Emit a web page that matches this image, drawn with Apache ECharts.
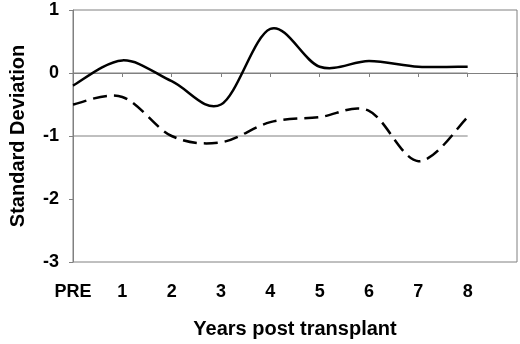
<!DOCTYPE html>
<html>
<head>
<meta charset="utf-8">
<script src="https://cdn.jsdelivr.net/npm/echarts@6/dist/echarts.min.js"></script>
<style>
  html, body { margin: 0; padding: 0; background: #fff; }
  #chart { width: 520px; height: 344px; }
</style>
</head>
<body>
<div id="chart"></div>
<script>
// x positions: 0 = PRE, then years 1..8 (9 is an empty slot at the right)
const years = [0, 1, 2, 3, 4, 5, 6, 7, 8];
const xLabels = ['PRE', '1', '2', '3', '4', '5', '6', '7', '8', ''];
const solidSD = [-0.2, 0.2, -0.13, -0.5, 0.7, 0.1, 0.19, 0.1, 0.1];
const dashedSD = [-0.5, -0.38, -1.0, -1.1, -0.78, -0.7, -0.6, -1.4, -0.7];
const refLevels = [0, -1];

const font = 'Liberation Sans, Arial, sans-serif';
const myChart = echarts.init(document.getElementById('chart'));

const pair = (xs, ys) => xs.map((x, i) => [x, ys[i]]);

// Excel-like smoothed line: cardinal spline through the data points,
// positioned with the chart's own coordinate system (api.coord)
function smoothRender(values, dash) {
  return function (params, api) {
    if (params.dataIndex !== 0) return;
    const p = values.map((v, i) => api.coord([years[i], v]));
    let d = 'M' + p[0][0] + ' ' + p[0][1];
    for (let i = 0; i < p.length - 1; i++) {
      const p0 = p[Math.max(i - 1, 0)];
      const p1 = p[i];
      const p2 = p[i + 1];
      const p3 = p[Math.min(i + 2, p.length - 1)];
      const c1x = p1[0] + (p2[0] - p0[0]) / 6;
      const c1y = p1[1] + (p2[1] - p0[1]) / 6;
      const c2x = p2[0] - (p3[0] - p1[0]) / 6;
      const c2y = p2[1] - (p3[1] - p1[1]) / 6;
      d += ' C' + c1x + ' ' + c1y + ' ' + c2x + ' ' + c2y + ' ' + p2[0] + ' ' + p2[1];
    }
    return {
      type: 'path',
      shape: { pathData: d },
      style: { fill: 'none', stroke: '#000', lineWidth: 2.5, lineDash: dash || null }
    };
  };
}

const refSeries = refLevels.map(v => ({
  type: 'line',
  data: [[years[0], v], [years[years.length - 1], v]],
  showSymbol: false,
  silent: true,
  z: 1,
  lineStyle: { color: '#808080', width: 1 }
}));

let option = {
  animation: false,
  grid: {
    left: 66, right: 3, top: 10, bottom: 78,
    show: true, borderColor: '#808080', borderWidth: 1
  },
  xAxis: {
    type: 'value',
    min: 0, max: 9, interval: 1,
    name: 'Years post transplant',
    nameLocation: 'middle',
    nameGap: 57,
    nameTextStyle: { fontFamily: font, fontWeight: 'bold', fontSize: 20, color: '#000' },
    axisLine: { lineStyle: { color: '#808080' } },
    axisTick: { length: 4, lineStyle: { color: '#808080' } },
    axisLabel: {
      margin: 21, fontFamily: font, fontWeight: 'bold', fontSize: 18, color: '#000',
      formatter: v => xLabels[v] || ''
    },
    splitLine: { show: false }
  },
  yAxis: {
    type: 'value',
    min: -3, max: 1, interval: 1,
    name: 'Standard Deviation',
    nameLocation: 'middle',
    nameGap: 45,
    nameTextStyle: { fontFamily: font, fontWeight: 'bold', fontSize: 20, color: '#000' },
    axisLine: { show: true, lineStyle: { color: '#808080' } },
    axisTick: { show: true, length: 4, lineStyle: { color: '#808080' } },
    axisLabel: { margin: 14, fontFamily: font, fontWeight: 'bold', fontSize: 18, color: '#000' },
    splitLine: { show: false }
  },
  series: [
    ...refSeries,
    {
      name: 'solid',
      type: 'custom',
      data: pair(years, solidSD),
      renderItem: smoothRender(solidSD),
      z: 3
    },
    {
      name: 'dashed',
      type: 'custom',
      data: pair(years, dashedSD),
      renderItem: smoothRender(dashedSD, [14, 7]),
      z: 3
    }
  ]
};

option && myChart.setOption(option);
</script>
</body>
</html>
